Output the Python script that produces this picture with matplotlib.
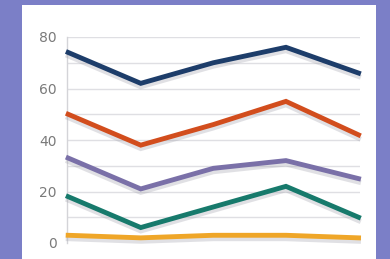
import matplotlib.pyplot as plt
import matplotlib.patheffects as pe
from matplotlib.patches import Rectangle
from matplotlib.colors import LinearSegmentedColormap
import numpy as np

# data
points = [0, 1, 2, 3, 4]
navy   = [74, 62, 70, 76, 66]
orange = [50, 38, 46, 55, 42]
purple = [33, 21, 29, 32, 25]
teal   = [18, 6, 14, 22, 10]
yellow = [3, 2, 3, 3, 2]

series = [(navy, '#1d3d6a'), (orange, '#d24d1d'), (purple, '#7a70a8'),
          (teal, '#177a6c'), (yellow, '#efa628')]
yticks = [0, 20, 40, 60, 80]

fig = plt.figure(figsize=(3.9, 2.59), dpi=100)
fig.patch.set_facecolor('#7b7fc7')

# white panel with a light grey band at the top
panel = Rectangle((22/390, 0), (376-22)/390, (259-5)/259, transform=fig.transFigure,
                  facecolor='white', edgecolor='none', zorder=0)
fig.patches.append(panel)
grad = np.linspace(0, 1, 50).reshape(-1, 1)
gax = fig.add_axes([22/390, (259-32)/259, (376-22)/390, 27/259], zorder=0)
gax.imshow(grad, aspect='auto', cmap=LinearSegmentedColormap.from_list('g', ['#e2e3e7', '#ffffff']),
           extent=[0, 1, 0, 1], origin='upper')
gax.axis('off')

ax = fig.add_axes([66.7/390, 16/259, (360-66.7)/390, (243-37)/259], zorder=1)
ax.set_facecolor('none')
for y in range(10, 90, 10):
    ax.axhline(y, color='#dfdfe3', lw=1.0, zorder=0)

shadow = [pe.SimpleLineShadow(offset=(0, -2.5), shadow_color='#a8a8b2', alpha=0.35), pe.Normal()]
for vals, c in series:
    ax.plot(points, vals, color=c, lw=3.5, solid_joinstyle='miter', clip_on=False,
            path_effects=shadow, zorder=3)

ax.set_xlim(-0.02, 4.02)
ax.set_ylim(0, 80)
ax.set_yticks(yticks)
ax.set_xticks([])
ax.tick_params(axis='y', length=0, pad=7, labelsize=10, labelcolor='#7a7a7a')
for s in ['top', 'right', 'bottom']:
    ax.spines[s].set_visible(False)
ax.spines['left'].set_color('#d4d4d8')
ax.spines['left'].set_linewidth(1.0)

fig.savefig('out.png', dpi=100, facecolor=fig.get_facecolor())
